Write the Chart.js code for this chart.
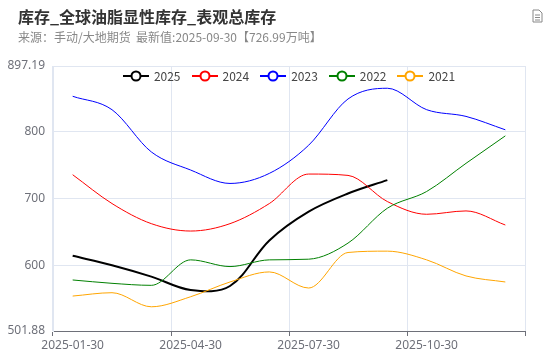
<!DOCTYPE html>
<html>
<head>
<meta charset="utf-8">
<script src="https://cdn.jsdelivr.net/npm/chart.js@4"></script>
<style>
  body { margin: 0; background: #fff; }
  #wrap { position: relative; width: 550px; height: 359px; font-family: 'Noto Sans CJK SC', 'Noto Sans', sans-serif; }
  #c { position: absolute; left: 0; top: 0; }
  .title { position: absolute; left: 18px; top: 4px; font-size: 16px; font-weight: bold; color: #333; }
  .sub { position: absolute; left: 18px; top: 28px; font-size: 12px; color: #888; }
  .icon { position: absolute; left: 532px; top: 9px; }
  #legend { position: absolute; left: 53px; width: 472px; top: 67px; display: flex; justify-content: center; gap: 11px; font-size: 12px; color: #444; }
  #legend div { display: flex; align-items: center; }
  #legend svg { margin-right: 5px; }
</style>
</head>
<body>
<div id="wrap">
  <canvas id="c" width="550" height="359"></canvas>
  <div class="title">库存_全球油脂显性库存_表观总库存</div>
  <div class="sub">来源：手动/大地期货&nbsp;&nbsp;最新值:2025-09-30【726.99万吨】</div>
  <svg class="icon" width="11" height="14" viewBox="0 0 11 14">
    <path d="M1 1 H7 L10 4 V13 H1 Z" fill="none" stroke="#888" stroke-width="1"/>
    <path d="M3 6 H8 M3 8.5 H8 M3 11 H8" stroke="#888" stroke-width="1"/>
  </svg>
  <div id="legend"></div>
</div>
<script>
// månader på x-axeln, var tredje visas
const months = ['2025-01-30','2025-02-28','2025-03-30','2025-04-30','2025-05-30','2025-06-30',
  '2025-07-30','2025-08-30','2025-09-30','2025-10-30','2025-11-30','2025-12-30'];
const yTicks = [501.88, 600, 700, 800, 897.19];

const s2025 = [614, 600, 583, 563, 569, 637, 680, 707, 726.99, null, null, null];
const s2024 = [735, 692, 662, 651, 662, 692, 736, 734, 695, 676, 681, 660];
const s2023 = [852, 832, 769, 742, 722, 737, 779, 848, 864, 832, 822, 802];
const s2022 = [578, 573, 570, 608, 598, 608, 609, 633, 685, 710, 752, 793];
const s2021 = [554, 559, 538, 553, 575, 590, 566, 619, 621, 608, 584, 575];

const seriesNames = ['2025', '2024', '2023', '2022', '2021'];
const seriesData = [s2025, s2024, s2023, s2022, s2021];
const colors = ['#000000', '#ff0000', '#0000ff', '#008000', '#ffa500'];
const widths = [2, 1, 1, 1, 1];

const gridColor = '#E0E6F1';
const axisColor = '#6E7079';

const datasets = seriesNames.map((name, i) => ({
  label: name,
  data: seriesData[i],
  borderColor: colors[i],
  borderWidth: widths[i],
  pointRadius: 0,
  // 2025 får en mjukare kurva, de andra monotone
  cubicInterpolationMode: i === 0 ? 'default' : 'monotone',
  tension: 0.35,
  fill: false
}));
// ritar 2025 överst
datasets.reverse();

new Chart(document.getElementById('c').getContext('2d'), {
  type: 'line',
  data: { labels: months, datasets: datasets },
  options: {
    responsive: false,
    animation: false,
    devicePixelRatio: 1,
    layout: { padding: { top: 66, right: 25, left: 0, bottom: 0 } },
    plugins: { legend: { display: false }, tooltip: { enabled: false } },
    scales: {
      x: {
        type: 'category',
        offset: true,
        afterFit: s => { s.height = 28; },
        grid: {
          offset: true,
          color: c => (c.index === undefined || c.index % 3 === 0) ? gridColor : 'transparent',
          tickColor: c => (c.index === undefined || c.index % 3 === 0) ? axisColor : 'transparent',
          tickLength: 5
        },
        border: { color: axisColor, width: 1 },
        ticks: {
          autoSkip: false,
          maxRotation: 0,
          padding: 2,
          color: axisColor,
          font: { size: 12, family: "'Noto Sans', sans-serif" },
          callback: (v, i) => i % 3 === 0 ? months[i] : ''
        }
      },
      y: {
        min: 501.88,
        max: 897.19,
        afterFit: s => { s.width = 53; },
        afterBuildTicks: s => { s.ticks = yTicks.map(v => ({ value: v })); },
        grid: { color: gridColor, drawTicks: false },
        border: { color: gridColor },
        ticks: {
          padding: 8,
          color: axisColor,
          font: { size: 12, family: "'Noto Sans', sans-serif" },
          callback: v => v
        }
      }
    }
  }
});

// egen legend ovanpå diagrammet
const legend = document.getElementById('legend');
seriesNames.forEach((name, i) => {
  const item = document.createElement('div');
  item.innerHTML = `<svg width="26" height="14"><line x1="0" y1="7" x2="26" y2="7" stroke="${colors[i]}" stroke-width="2"/>` +
    `<circle cx="13" cy="7" r="4.5" fill="#fff" stroke="${colors[i]}" stroke-width="2"/></svg>${name}`;
  legend.appendChild(item);
});
</script>
</body>
</html>
